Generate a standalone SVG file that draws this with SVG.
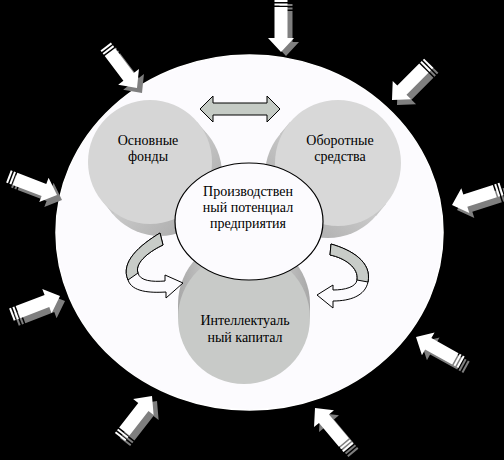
<svg xmlns="http://www.w3.org/2000/svg" xmlns:xlink="http://www.w3.org/1999/xlink" width="504" height="460" viewBox="0 0 504 460">
<style>
.lbl{font-family:"Liberation Serif","Times New Roman",serif;font-size:14px;fill:#000;text-anchor:middle}
.cur{stroke:#000;stroke-width:1}
</style>
<defs>
<linearGradient id="gL" x1="0" y1="0" x2="1" y2="1">
<stop offset="0" stop-color="#f0f0f0"/><stop offset="1" stop-color="#a0a0a0"/>
</linearGradient>
<linearGradient id="gR" x1="1" y1="0" x2="0" y2="1">
<stop offset="0" stop-color="#f0f0f0"/><stop offset="1" stop-color="#a0a0a0"/>
</linearGradient>
<linearGradient id="gB" x1="0" y1="0" x2="1" y2="0">
<stop offset="0" stop-color="#a8a8a8"/><stop offset="0.5" stop-color="#ececec"/><stop offset="1" stop-color="#a8a8a8"/>
</linearGradient>
<g id="aw">
<path d="M0,0 L-14,-13 L-14,-6.5 L-45,-6.5 L-45,6.5 L-14,6.5 L-14,13 Z" fill="#ffffff"/>
<rect x="-48.5" y="-6.5" width="2" height="13" fill="#ffffff"/>
<rect x="-52" y="-6.5" width="2" height="13" fill="#ffffff"/>
</g>
<g id="as">
<path d="M0,0 L-14,-13 L-14,-6.5 L-45,-6.5 L-45,6.5 L-14,6.5 L-14,13 Z" fill="#7f7f7f"/>
<rect x="-48.5" y="-6.5" width="2" height="13" fill="#7f7f7f"/>
<rect x="-52" y="-6.5" width="2" height="13" fill="#7f7f7f"/>
</g>
</defs>
<rect x="0" y="0" width="504" height="460" fill="#000"/>
<g id="outer">
<ellipse cx="249.5" cy="232.5" rx="193.5" ry="177.5" fill="#fcfbfe" stroke="#ffffff" stroke-width="1.5"/>
</g>
<g id="influences">
<g transform="translate(281,52)"><use xlink:href="#as" transform="translate(5,4) rotate(90)"/><use xlink:href="#aw" transform="rotate(90)"/></g>
<g transform="translate(137,88)"><use xlink:href="#as" transform="translate(5,5) rotate(53)"/><use xlink:href="#aw" transform="rotate(53)"/></g>
<g transform="translate(392,100)"><use xlink:href="#as" transform="translate(5,5) rotate(135)"/><use xlink:href="#aw" transform="rotate(135)"/></g>
<g transform="translate(452,205)"><use xlink:href="#as" transform="translate(5,5) rotate(162)"/><use xlink:href="#aw" transform="rotate(162)"/></g>
<g transform="translate(57,195)"><use xlink:href="#as" transform="translate(5,5) rotate(21)"/><use xlink:href="#aw" transform="rotate(21)"/></g>
<g transform="translate(60,296)"><use xlink:href="#as" transform="translate(5,5) rotate(-21)"/><use xlink:href="#aw" transform="rotate(-21)"/></g>
<g transform="translate(152,396)"><use xlink:href="#as" transform="translate(5,5) rotate(-52)"/><use xlink:href="#aw" transform="rotate(-52)"/></g>
<g transform="translate(315,408)"><use xlink:href="#as" transform="translate(5,5) rotate(-130)"/><use xlink:href="#aw" transform="rotate(-130)"/></g>
<g transform="translate(416,337)"><use xlink:href="#as" transform="translate(5,5) rotate(-151)"/><use xlink:href="#aw" transform="rotate(-151)"/></g>
</g>
<g id="capital">
<circle cx="244" cy="304" r="66" fill="url(#gB)"/>
<rect x="178" y="304" width="132" height="14" fill="url(#gB)"/>
<circle cx="244" cy="318" r="66" fill="#c8cac8"/>
<text class="lbl" x="245" y="325">Интеллектуаль</text>
<text class="lbl" x="245" y="342">ный капитал</text>
</g>
<g id="fixed">
<circle cx="160" cy="174" r="62" fill="url(#gL)"/>
<path d="M197,122 L207,134 L113,214 L103,202 Z" fill="url(#gL)"/>
<circle cx="150" cy="162" r="62" fill="#d6d6d6"/>
<text class="lbl" x="148" y="145">Основные</text>
<text class="lbl" x="148" y="161">фонды</text>
</g>
<g id="current">
<circle cx="328" cy="175" r="63" fill="url(#gR)"/>
<path d="M386,204 L376,216 L280,134 L290,122 Z" fill="url(#gR)"/>
<circle cx="338" cy="163" r="63" fill="#d8d8d8"/>
<text class="lbl" x="340" y="145">Оборотные</text>
<text class="lbl" x="340" y="161">средства</text>
</g>
<g id="connectors">
<path d="M200,109 L213,96 L213,103 L267,103 L267,96 L280,109 L267,122 L267,115 L213,115 L213,122 Z" fill="#c5cbc5" stroke="#000" stroke-width="1"/>
<path d="M160,233 C140,245 120,262 128,280 C132,292 150,293 166,292 L166,298 L183,283 L165,275 L165,281 C152,282 140,281 138,273 C134,262 152,250 163,245 Z" fill="#fcfbfe" class="cur"/>
<path d="M160,233 C140,245 120,262 128,280 L138,273 C134,262 152,250 163,245 Z" fill="#c8ccc8" class="cur"/>
<path d="M331,244 C352,250 372,262 368,282 C365,296 350,301 333,301 L333,308 L317,295 L333,285 L333,290 C345,290 356,287 357,280 C359,268 345,258 330,255 Z" fill="#fcfbfe" class="cur"/>
<path d="M331,244 C352,250 372,262 368,282 L357,280 C359,268 345,258 330,255 Z" fill="#c8ccc8" class="cur"/>
</g>
<g id="potential">
<ellipse cx="249" cy="221.5" rx="74" ry="58.5" fill="#fcfbfe" stroke="#000" stroke-width="1.2"/>
<text class="lbl" x="248" y="196">Производствен</text>
<text class="lbl" x="248" y="212">ный потенциал</text>
<text class="lbl" x="248" y="228">предприятия</text>
</g>
</svg>
